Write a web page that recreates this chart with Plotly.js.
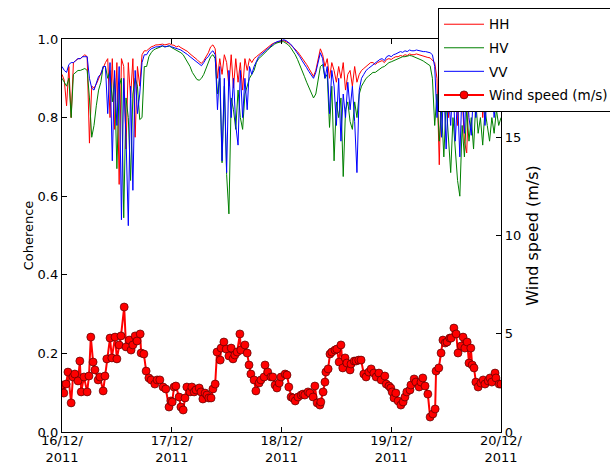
<!DOCTYPE html>
<html>
<head>
<meta charset="utf-8">
<script src="https://cdn.plot.ly/plotly-3.0.1.min.js"></script>
<style>html,body{margin:0;padding:0;background:#fff;}#chart{width:610px;height:465px;}</style>
</head>
<body>
<div id="chart"></div>
<script>
// Coherence sample times (hours after 16/12/2011 00:00)
const cohHours = [0,0.5,1,1.5,2,2.5,3,3.5,4,4.5,5,5.5,6,6.5,7,7.5,8,8.5,9,9.5,10,10.5,11,11.5,12,12.5,13,13.5,14,14.5,15,15.5,16,16.5,17,17.5,18,18.5,19,19.5,20,20.5,21,21.5,22,22.5,23,23.5,24,24.5,25,25.5,26,26.5,27,27.5,28,28.5,29,29.5,30,30.5,31,31.5,32,32.5,33,33.5,34,34.5,35,35.5,36,36.5,37,37.5,38,38.5,39,39.5,40,40.5,41,41.5,42,42.5,43,43.5,44,44.5,45,45.5,46,46.5,47,47.5,48,48.5,49,49.5,50,50.5,51,51.5,52,52.5,53,53.5,54,54.5,55,55.5,56,56.5,57,57.5,58,58.5,59,59.5,60,60.5,61,61.5,62,62.5,63,63.5,64,64.5,65,65.5,66,66.5,67,67.5,68,68.5,69,69.5,70,70.5,71,71.5,72,72.5,73,73.5,74,74.5,75,75.5,76,76.5,77,77.5,78,78.5,79,79.5,80,80.5,81,81.5,82,82.5,83,83.5,84,84.5,85,85.5,86,86.5,87,87.5,88,88.5,89,89.5,90,90.5,91,91.5,92,92.5,93,93.5,94,94.5,95,95.5,96];

const cohHH = [0.91,0.895,0.83,0.93,0.80,0.94,0.945,0.95,0.95,0.955,0.96,0.955,0.735,0.88,0.875,0.885,0.90,0.91,0.93,
0.94,0.95,0.80,0.95,0.77,0.94,0.63,0.95,0.93,0.72,0.94,0.85,0.95,0.75,0.93,0.88,0.96,0.97,
0.97,0.975,0.98,0.982,0.985,0.985,0.986,0.987,0.985,0.986,0.988,0.985,0.984,0.98,0.982,0.978,0.975,0.972,0.968,0.962,0.958,0.952,0.948,0.942,0.938,0.945,0.955,0.965,0.98,0.985,0.975,
0.90,0.95,0.91,0.96,0.94,0.88,0.96,0.875,0.95,0.89,0.94,0.87,0.95,0.92,0.95,0.94,0.95,
0.955,0.96,0.965,0.97,0.975,0.98,0.985,0.988,0.99,0.992,0.993,0.995,0.996,0.994,0.99,0.985,0.98,0.975,0.968,0.96,0.952,0.945,0.935,0.925,0.915,0.905,
0.92,0.95,0.975,0.96,0.93,0.95,0.90,0.94,
0.92,0.89,0.93,0.90,0.94,0.87,0.91,0.92,0.88,0.93,0.89,0.91,0.92,0.925,0.93,0.935,0.94,0.94,
0.935,0.94,0.942,0.945,0.94,0.948,0.95,0.948,0.952,0.955,0.955,0.958,0.956,0.96,0.958,0.962,0.96,0.96,0.962,0.96,0.958,0.957,0.955,0.953,0.952,0.945,
0.94,0.90,0.68,0.92,0.85,0.93,0.80,0.91,0.84,0.92,0.78,0.90,0.86,0.74,0.71,0.88,0.92,0.84,0.90,0.85,0.92,0.80,0.90,0.86,0.88,0.82,0.90,0.85,0.88,0.87];

const cohHV = [0.90,0.89,0.88,0.90,0.80,0.91,0.915,0.92,0.92,0.922,0.925,0.92,0.85,0.75,0.78,0.83,0.87,0.89,0.93,
0.93,0.90,0.92,0.84,0.90,0.67,0.88,0.90,0.545,0.85,0.80,0.64,0.86,0.90,0.88,0.795,0.80,0.93,
0.93,0.955,0.965,0.972,0.975,0.978,0.98,0.982,0.98,0.982,0.982,0.978,0.975,0.972,0.97,0.965,0.96,0.95,0.94,0.93,0.915,0.905,0.897,0.895,0.90,0.91,0.925,0.945,0.955,0.96,0.95,
0.86,0.90,0.685,0.88,0.655,0.555,0.85,0.82,0.77,0.87,0.80,0.77,0.86,0.88,0.90,0.91,0.92,
0.94,0.95,0.955,0.96,0.965,0.972,0.978,0.983,0.987,0.99,0.992,0.993,0.993,0.99,0.985,0.978,0.97,0.96,0.948,0.935,0.92,0.905,0.89,0.875,0.86,0.85,
0.86,0.90,0.93,0.935,0.90,0.91,0.775,0.88,
0.69,0.84,0.80,0.85,0.65,0.82,0.84,0.79,0.77,0.84,0.80,0.86,0.88,0.89,0.90,0.905,0.91,0.915,
0.915,0.92,0.925,0.928,0.93,0.935,0.94,0.942,0.945,0.948,0.95,0.952,0.955,0.955,0.957,0.958,0.957,0.955,0.952,0.95,0.947,0.944,0.94,0.936,0.932,0.90,
0.78,0.86,0.74,0.82,0.70,0.84,0.76,0.66,0.80,0.72,0.64,0.60,0.78,0.70,0.82,0.74,0.80,0.72,0.84,0.76,0.80,0.73,0.82,0.78,0.74,0.80,0.76,0.82,0.78,0.80];

const cohVV = [0.93,0.92,0.915,0.935,0.94,0.94,0.945,0.95,0.95,0.955,0.955,0.955,0.90,0.875,0.87,0.89,0.905,0.91,0.93,
0.93,0.81,0.94,0.69,0.92,0.78,0.93,0.54,0.90,0.75,0.525,0.88,0.615,0.92,0.81,0.86,0.94,0.96,
0.96,0.97,0.975,0.978,0.98,0.98,0.982,0.983,0.98,0.982,0.983,0.98,0.978,0.976,0.975,0.972,0.968,0.965,0.96,0.955,0.95,0.945,0.94,0.935,0.932,0.94,0.95,0.955,0.965,0.97,0.96,
0.82,0.93,0.69,0.90,0.66,0.92,0.80,0.90,0.78,0.73,0.92,0.80,0.90,0.82,0.93,0.91,0.93,
0.945,0.955,0.96,0.965,0.97,0.975,0.982,0.986,0.99,0.993,0.995,0.997,0.998,0.996,0.992,0.987,0.98,0.972,0.965,0.955,0.945,0.937,0.927,0.917,0.907,0.90,
0.915,0.94,0.965,0.95,0.90,0.93,0.81,0.92,
0.88,0.78,0.90,0.74,0.86,0.80,0.89,0.82,0.88,0.79,0.66,0.87,0.90,0.91,0.92,0.925,0.93,0.935,
0.94,0.945,0.948,0.95,0.945,0.955,0.958,0.955,0.96,0.962,0.965,0.968,0.966,0.97,0.968,0.972,0.97,0.97,0.972,0.97,0.97,0.968,0.968,0.966,0.965,0.96,
0.93,0.80,0.90,0.75,0.88,0.72,0.86,0.78,0.90,0.74,0.85,0.70,0.88,0.76,0.90,0.80,0.755,0.87,0.80,0.90,0.82,0.88,0.78,0.86,0.83,0.88,0.80,0.86,0.84,0.87];

// Wind speed (m/s) sample times (hours after 16/12/2011 00:00) and values
const windHours = [0.0,0.4,0.9,1.3,2.0,2.4,2.8,3.5,3.9,4.2,4.8,5.5,5.9,6.3,6.8,7.2,7.9,8.3,9.0,9.4,9.8,10.5,10.9,11.6,12.0,12.5,12.9,13.6,14.0,14.7,15.1,15.5,16.0,16.4,17.1,17.3,17.9,18.4,19.0,19.5,20.3,20.8,21.4,22.1,22.7,23.4,23.8,
24.1,24.5,24.9,25.6,26.0,26.5,26.9,27.3,28.0,28.4,28.9,29.3,30.0,30.4,30.8,31.3,31.7,32.1,32.6,33.0,33.5,33.9,34.6,34.8,35.4,35.9,36.5,37.0,37.4,37.8,38.3,38.9,39.1,40.0,40.5,40.9,41.3,42.0,42.4,43.1,43.5,44.2,44.4,45.0,45.7,46.1,46.6,47.0,47.5,47.9,
48.8,49.2,49.6,50.1,50.5,51.0,51.6,52.3,52.7,53.1,53.8,54.2,54.9,55.3,55.8,56.4,56.6,57.1,57.5,57.7,58.2,58.6,59.0,59.7,60.1,60.6,61.0,61.4,61.9,62.3,63.0,63.2,63.9,64.3,64.9,65.4,66.0,66.5,67.1,67.6,68.2,68.7,69.3,69.8,70.6,70.9,71.5,71.9,
72.2,72.6,73.0,73.5,74.1,74.6,75.0,75.4,76.1,76.3,77.0,77.4,78.1,78.5,78.9,79.4,80.0,80.5,81.1,81.6,81.8,82.4,82.9,83.3,83.8,84.2,84.8,85.1,85.7,86.2,86.6,87.3,87.7,88.1,88.6,89.0,89.4,89.7,90.1,90.5,91.0,91.6,92.1,92.5,93.2,93.6,94.0,94.7,94.9,95.6,96.0];
const windSpeed = [2.39,1.98,2.44,3.05,1.48,2.80,2.95,2.60,3.61,2.04,2.80,2.04,2.85,4.83,3.56,3.16,2.65,2.80,2.09,2.85,3.72,4.78,3.77,4.83,3.72,4.43,4.89,6.36,4.33,4.68,4.17,4.43,4.89,4.63,4.99,4.02,3.97,3.10,2.75,2.65,2.44,2.65,2.65,2.29,2.19,1.27,1.58,
1.53,2.29,2.34,1.78,1.27,1.12,1.73,2.29,2.04,2.29,2.04,2.14,2.24,2.04,1.68,1.98,1.88,1.73,1.73,2.19,2.44,4.07,3.66,4.27,4.58,4.22,3.87,4.27,3.72,3.92,4.07,4.99,4.17,4.43,4.02,3.41,2.95,2.65,2.09,2.49,2.65,2.80,3.41,3.05,2.80,2.80,2.39,2.24,2.49,2.80,
2.95,2.90,2.29,1.78,1.73,1.58,1.78,1.88,1.93,1.88,2.04,1.98,1.78,2.34,1.48,1.37,1.53,2.04,2.54,3.05,3.21,3.97,4.07,4.17,4.22,3.56,4.43,3.26,3.77,3.51,3.16,3.46,3.61,3.61,3.66,3.66,2.95,2.80,3.05,3.21,3.00,2.80,3.00,2.65,2.85,2.44,2.34,2.24,
2.04,1.73,1.98,1.58,1.37,1.53,1.78,2.04,2.14,2.39,2.70,2.54,2.29,2.54,2.75,2.34,1.93,0.76,0.92,1.17,3.10,3.26,4.02,4.68,4.53,4.58,4.78,4.78,5.29,4.99,4.02,4.38,4.83,4.27,4.58,3.51,4.27,3.41,3.26,2.54,2.29,2.49,2.65,2.44,2.60,2.75,2.54,3.00,2.75,2.44,2.44];

const dayTicks = ['2011-12-16','2011-12-17','2011-12-18','2011-12-19','2011-12-20'];
const dayLabels = ['16/12/<br>2011','17/12/<br>2011','18/12/<br>2011','19/12/<br>2011','20/12/<br>2011'];
const cohTicks = [0,0.2,0.4,0.6,0.8,1.0];
const windTicks = [0,5,10,15,20];

function toDate(h){
  const d = new Date(Date.UTC(2011,11,16) + Math.round(h*3600000));
  const p = n => String(n).padStart(2,'0');
  return d.getUTCFullYear()+'-'+p(d.getUTCMonth()+1)+'-'+p(d.getUTCDate())+' '+p(d.getUTCHours())+':'+p(d.getUTCMinutes())+':'+p(d.getUTCSeconds());
}
const cohX = cohHours.map(toDate);
const windX = windHours.map(toDate);

const font = 'DejaVu Sans, Bitstream Vera Sans, sans-serif';
const traces = [
  {x: cohX, y: cohHH, name: 'HH', legendgroup: 'g1', type: 'scatter', mode: 'lines', line: {color: '#ff0000', width: 1}},
  {x: cohX, y: cohHV, name: 'HV', legendgroup: 'g2', type: 'scatter', mode: 'lines', line: {color: '#008000', width: 1}},
  {x: cohX, y: cohVV, name: 'VV', legendgroup: 'g3', type: 'scatter', mode: 'lines', line: {color: '#0000ff', width: 1}},
  {x: windX, y: windSpeed, name: 'Wind speed (m/s)', legendgroup: 'g4', type: 'scatter', mode: 'lines+markers', yaxis: 'y2',
   line: {color: '#ff0000', width: 2}, marker: {color: '#ff0000', size: 8, line: {color: '#550000', width: 0.7}}}
];

const layout = {
  width: 610, height: 465,
  margin: {l: 62, r: 109, t: 39, b: 33, pad: 0, autoexpand: false},
  paper_bgcolor: '#ffffff', plot_bgcolor: '#ffffff',
  font: {family: font, size: 13, color: '#000'},
  showlegend: true,
  legend: {x: 0.8565, y: 1.079, xanchor: 'left', yanchor: 'top', bgcolor: '#ffffff', itemwidth: 40,
           tracegroupgap: 3, bordercolor: '#000', borderwidth: 1, font: {family: font, size: 13.5, color: '#000'}},
  xaxis: {type: 'date', range: ['2011-12-16', '2011-12-20'], tickvals: dayTicks, ticktext: dayLabels,
          ticks: 'inside', ticklen: 5, tickcolor: '#000', showline: true, linecolor: '#000', linewidth: 1.2,
          mirror: 'ticks', showgrid: false, zeroline: false, ticklabelstandoff: -4,
          tickfont: {family: font, size: 13, color: '#000'}},
  yaxis: {range: [0, 1], tickvals: cohTicks, tickformat: '.1f', ticks: 'inside', ticklen: 5, tickcolor: '#000',
          showline: true, linecolor: '#000', linewidth: 1.2, showgrid: false, zeroline: false,
          tickfont: {family: font, size: 13, color: '#000'},
          title: {text: 'Coherence', font: {family: font, size: 13, color: '#000'}, standoff: 1}},
  yaxis2: {overlaying: 'y', side: 'right', range: [0, 20], tickvals: windTicks, ticks: 'inside', ticklen: 5,
           tickcolor: '#000', showline: true, linecolor: '#000', linewidth: 1.2, showgrid: false, zeroline: false,
           tickfont: {family: font, size: 13, color: '#000'},
           title: {text: 'Wind speed (m/s)', font: {family: font, size: 16, color: '#000'}, standoff: 6}}
};

Plotly.newPlot('chart', traces, layout, {displayModeBar: false, staticPlot: true});
</script>
</body>
</html>
